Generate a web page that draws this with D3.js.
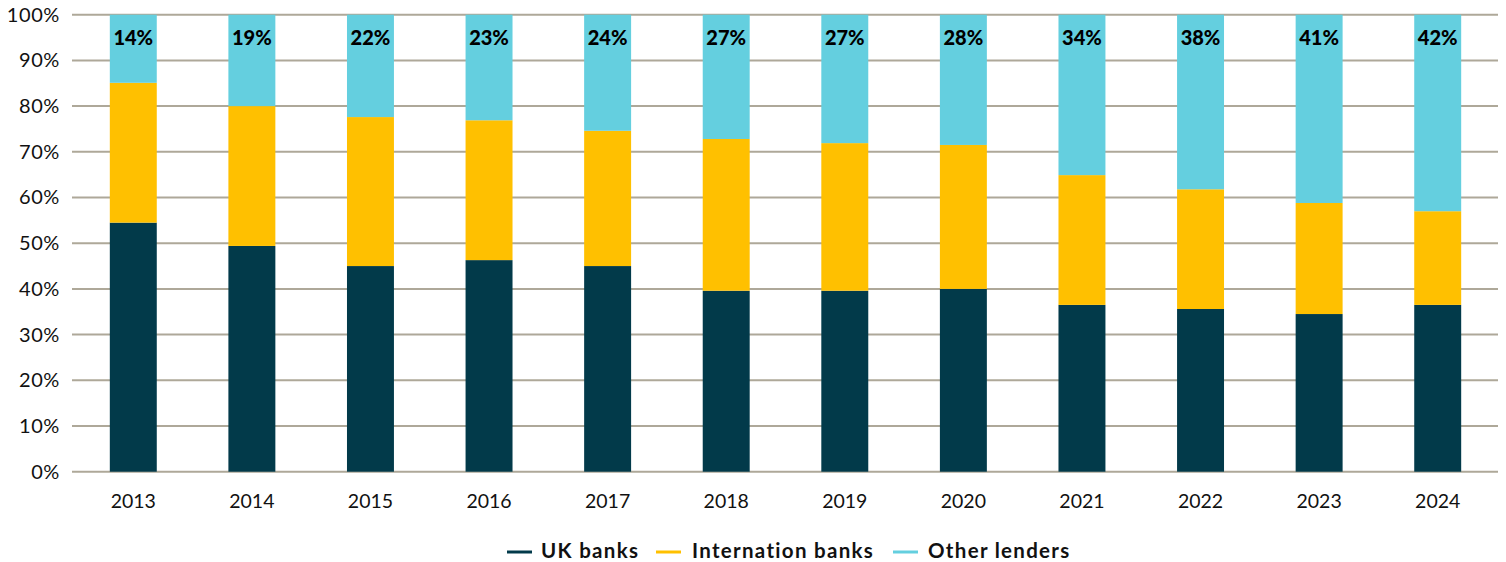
<!DOCTYPE html>
<html><head><meta charset="utf-8">
<script src="https://cdn.jsdelivr.net/npm/d3@7"></script>
<style>body{margin:0;background:#fff}svg{display:block}text{font-family:Lato,"Noto Sans",sans-serif}</style>
</head><body><svg id="c" width="1506" height="562"></svg>
<script>
const years = ["2013","2014","2015","2016","2017","2018","2019","2020","2021","2022","2023","2024"];
const ukBanks = [54.5, 49.4, 45.0, 46.3, 45.0, 39.6, 39.6, 40.0, 36.5, 35.6, 34.5, 36.5];
const intlBanks = [30.6, 30.6, 32.6, 30.6, 29.6, 33.2, 32.3, 31.5, 28.4, 26.2, 24.3, 20.5];
const otherLenders = [14.9, 20.0, 22.4, 23.1, 25.4, 27.2, 28.1, 28.5, 35.1, 38.2, 41.2, 43.0];
const otherLabels = ["14%","19%","22%","23%","24%","27%","27%","28%","34%","38%","41%","42%"];
const yTicks = [0,10,20,30,40,50,60,70,80,90,100];
const seriesNames = ["UK banks","Internation banks","Other lenders"];
const colors = ["#023a4a","#ffc000","#64cfdf"];

const svg = d3.select("#c");
const x = d3.scaleBand().domain(years).range([74, 1497]).paddingInner(0.604).paddingOuter(0.302);
const y = d3.scaleLinear().domain([0,100]).range([471.7, 14.7]);

// gridlines
svg.append("g").selectAll("line").data(yTicks).join("line")
  .attr("x1", 72).attr("x2", 1498)
  .attr("y1", d => y(d)).attr("y2", d => y(d))
  .attr("stroke", "#aea899").attr("stroke-width", 2);

// y axis labels
const yAxis = d3.axisLeft(y).tickValues(yTicks).tickFormat(d => d + "%").tickSize(0).tickPadding(0);
const yg = svg.append("g").attr("transform","translate(60,0)").call(yAxis);
yg.select(".domain").remove();
yg.selectAll("text").attr("font-size", 20).attr("fill","#111").attr("font-family","Lato, sans-serif")
  .attr("letter-spacing", 0.6);

// x axis labels
const xAxis = d3.axisBottom(x).tickSize(0).tickPadding(0);
const xg = svg.append("g").attr("transform","translate(0,494)").call(xAxis);
xg.select(".domain").remove();
xg.selectAll("text").attr("font-size", 19.5).attr("fill","#111").attr("font-family","Lato, sans-serif");

// stacked data
const rows = years.map((yr,i) => ({year: yr, uk: ukBanks[i], intl: intlBanks[i], other: otherLenders[i], label: otherLabels[i]}));
const stack = d3.stack().keys(["uk","intl","other"]);
const layers = stack(rows);

svg.append("g").selectAll("g").data(layers).join("g")
  .attr("fill", (d,i) => colors[i])
  .selectAll("rect").data(d => d).join("rect")
  .attr("x", d => x(d.data.year))
  .attr("width", x.bandwidth())
  .attr("y", d => y(Math.min(d[1],100)))
  .attr("height", d => y(d[0]) - y(Math.min(d[1],100)));

// labels for Other lenders
svg.append("g").selectAll("text").data(rows).join("text")
  .attr("x", d => x(d.year) + x.bandwidth()/2)
  .attr("y", y(100) + 30)
  .attr("text-anchor","middle")
  .attr("font-size", 20).attr("font-weight", 900).attr("fill","#000")
  .attr("font-family","Lato, sans-serif")
  .text(d => d.label);

// legend
const legendItems = [
  {name: seriesNames[0], color: colors[0], x: 507, tx: 541},
  {name: seriesNames[1], color: colors[1], x: 656, tx: 692},
  {name: seriesNames[2], color: colors[2], x: 893, tx: 928}
];
const lg = svg.append("g");
legendItems.forEach(it => {
  lg.append("line").attr("x1", it.x).attr("x2", it.x + 25).attr("y1", 552).attr("y2", 552)
    .attr("stroke", it.color).attr("stroke-width", 3);
  lg.append("text").attr("x", it.tx).attr("y", 557.5)
    .attr("font-size", 20.5).attr("font-weight", 700).attr("fill","#111")
    .attr("letter-spacing", 1.3)
    .attr("font-family","'Open Sans', sans-serif").text(it.name);
});
</script></body></html>
